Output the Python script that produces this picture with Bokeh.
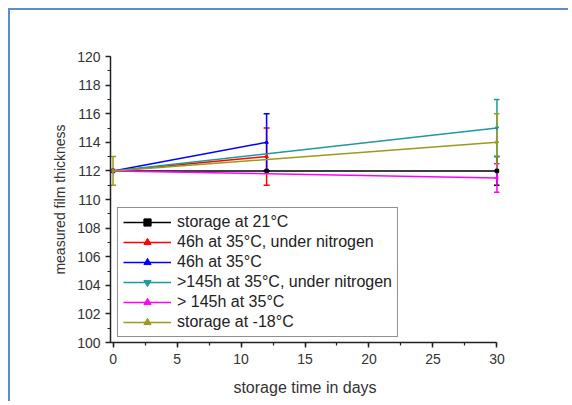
from bokeh.plotting import figure
from bokeh.models import (Range1d, Whisker, TeeHead, ColumnDataSource, Legend,
                          LegendItem, SingleIntervalTicker)
from bokeh.embed import file_html
from bokeh.resources import INLINE

# ---- data ----
labels = ["storage at 21°C", "46h at 35°C, under nitrogen", "46h at 35°C",
          ">145h at 35°C, under nitrogen", "> 145h at 35°C", "storage at -18°C"]
days_21 = [0, 12, 30];  thick_21 = [112, 112, 112];   err_21 = [0, 0, 1]
days_46n = [0, 12];     thick_46n = [112, 113];       err_46n = [0, 2]
days_46 = [0, 12];      thick_46 = [112, 114];        err_46 = [0, 2]
days_145n = [0, 30];    thick_145n = [112, 115];      err_145n = [0, 2]
days_145 = [0, 30];     thick_145 = [112, 111.5];     err_145 = [0, 1]
days_m18 = [0, 30];     thick_m18 = [112, 114];       err_m18 = [1, 2]

series = [
    (days_21, thick_21, err_21, "#000000", "square", 0.0),
    (days_46n, thick_46n, err_46n, "#ff0000", "triangle", 0.0),
    (days_46, thick_46, err_46, "#0000ff", "triangle", 0.0),
    (days_145n, thick_145n, err_145n, "#1e9a9a", "inverted_triangle", 0.0),
    (days_145, thick_145, err_145, "#ff00ff", "triangle", 1.5708),
    (days_m18, thick_m18, err_m18, "#9a9a1e", "triangle", -1.5708),
]

p = figure(width=560, height=393, output_backend="svg", toolbar_location=None,
           x_range=Range1d(-0.2, 30.2), y_range=Range1d(100, 120),
           min_border_left=100, min_border_right=71, min_border_top=46,
           min_border_bottom=61)
p.styles = {"border-top": "2px solid #5b8bd0", "border-left": "2px solid #5b8bd0",
            "margin-left": "8px", "margin-top": "8px"}
p.outline_line_color = None
p.xgrid.grid_line_color = None
p.ygrid.grid_line_color = None
p.background_fill_color = "white"
p.border_fill_color = "white"

p.xaxis.ticker = SingleIntervalTicker(interval=5, num_minor_ticks=2)
p.yaxis.ticker = SingleIntervalTicker(interval=2, num_minor_ticks=2)
p.xaxis.bounds = (-0.2, 30)
p.yaxis.bounds = (100, 120)
for ax in (p.xaxis[0], p.yaxis[0]):
    ax.axis_line_color = "#222222"
    ax.axis_line_width = 1.5
    ax.major_tick_line_color = "#222222"
    ax.minor_tick_line_color = "#222222"
    ax.major_tick_line_width = 1.5
    ax.minor_tick_line_width = 1.2
    ax.major_tick_in = 0
    ax.major_tick_out = 5
    ax.minor_tick_in = 0
    ax.minor_tick_out = 3
    ax.major_label_text_font = "Liberation Sans"
    ax.major_label_text_font_size = "14px"
    ax.major_label_text_color = "#333333"
    ax.axis_label_text_font = "Liberation Sans"
    ax.axis_label_text_font_style = "normal"
    ax.axis_label_text_color = "#333333"
p.xaxis.axis_label = "storage time in days"
p.yaxis.axis_label = "measured film thickness"
p.xaxis.axis_label_text_font_size = "16px"
p.yaxis.axis_label_text_font_size = "14px"
p.xaxis.major_label_standoff = 6
p.yaxis.major_label_standoff = 5
p.xaxis.axis_label_standoff = 12
p.yaxis.axis_label_standoff = 6

items = []
for (d, v, e, col, mk, ang), lab in zip(series, labels):
    src = ColumnDataSource(dict(x=d, y=v,
                                lo=[a - b for a, b in zip(v, e)],
                                hi=[a + b for a, b in zip(v, e)]))
    w = Whisker(source=src, base="x", upper="hi", lower="lo", dimension="height",
                line_color=col, line_width=1.5,
                upper_head=TeeHead(size=6, line_color=col, line_width=1.5),
                lower_head=TeeHead(size=6, line_color=col, line_width=1.5))
    p.add_layout(w)
    lr = p.line("x", "y", source=src, line_color=col, line_width=1.5)
    sr = p.scatter("x", "y", source=src, marker=mk, angle=ang, size=3.5,
                   fill_color=col, line_color=col)
    items.append(LegendItem(label=lab, renderers=[lr, sr]))

legend = Legend(items=items, location=(7, 5), border_line_color="#222222",
                border_line_width=1.5, padding=5, spacing=2, label_height=18,
                glyph_height=18, glyph_width=48, label_standoff=6, margin=0,
                label_text_font="Liberation Sans", label_text_font_size="16px",
                label_text_color="#222222", background_fill_color="white",
                background_fill_alpha=1.0)
p.add_layout(legend)

open("out.html", "w").write(file_html(p, INLINE))
